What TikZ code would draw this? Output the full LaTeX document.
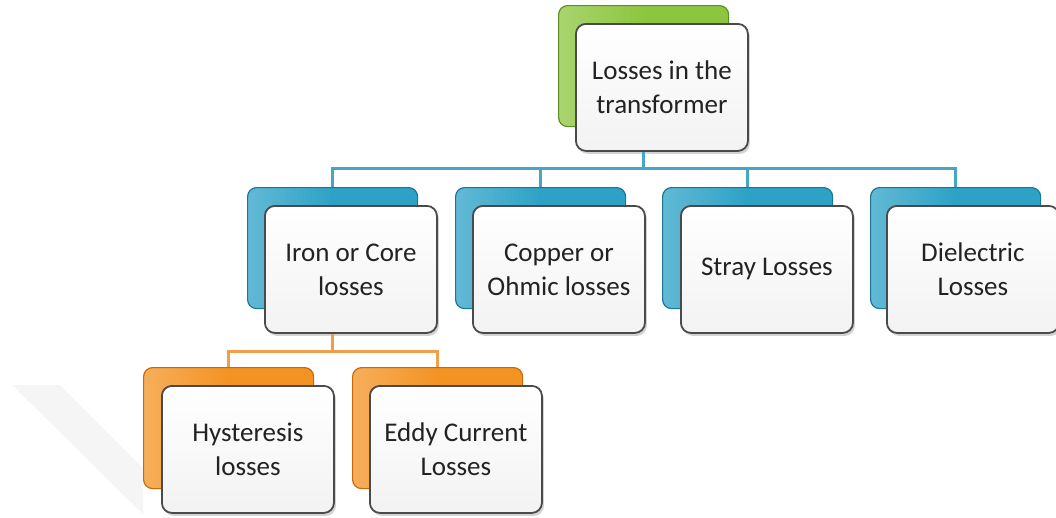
\documentclass[tikz,border=0pt]{standalone}
\usepackage{fontspec}
\setmainfont{Carlito}
\usetikzlibrary{shadows}
\definecolor{gA}{HTML}{8CC63F}
\definecolor{gB}{HTML}{5E8F22}
\definecolor{bA}{HTML}{2DA2C6}
\definecolor{bB}{HTML}{1A7696}
\definecolor{oA}{HTML}{F39324}
\definecolor{oB}{HTML}{C86A0A}
\definecolor{bline}{HTML}{45A6C6}
\definecolor{oline}{HTML}{EF9E4A}
\definecolor{frame}{HTML}{4A4A4A}
\definecolor{txt}{HTML}{222222}
\tikzset{
  backbox/.style 2 args={draw=#2, line width=1.2pt, rounded corners=9pt,
    minimum width=170pt, minimum height=121pt, anchor=north west, inner sep=0pt,
    left color=#1!75!white, right color=#1, middle color=#1},
  frontbox/.style={draw=frame, line width=1.8pt, rounded corners=10pt,
    minimum width=172pt, minimum height=127pt, anchor=north west, inner sep=0pt,
    top color=white, bottom color=gray!10, text=txt, align=center,
    font=\fontsize{27}{34}\selectfont,
    drop shadow={opacity=0.35, shadow xshift=2pt, shadow yshift=-3pt}},
  bluelink/.style={draw=bline, line width=3pt},
  orangelink/.style={draw=oline, line width=3pt}
}
\begin{document}
\begin{tikzpicture}[x=1pt,y=-1pt]
\useasboundingbox (0,0) rectangle (1056,517);
% faint watermark band
\fill[gray!8] (12,385) -- (60,385) -- (143,468) -- (143,514) -- cycle;

% back boxes
\node[backbox={gA}{gB}] (topb) at (558,5) {};
\node[backbox={bA}{bB}] (ironb) at (247,187) {};
\node[backbox={bA}{bB}] (copb) at (455,187) {};
\node[backbox={bA}{bB}] (strb) at (662,187) {};
\node[backbox={bA}{bB}] (dieb) at (870,187) {};
\node[backbox={oA}{oB}] (hysb) at (143,367) {};
\node[backbox={oA}{oB}] (eddb) at (352,367) {};

% front boxes
\node[frontbox] (topf) at (575,23) {Losses in the\\transformer};
\node[frontbox] (ironf) at (264,205) {Iron or Core\\losses};
\node[frontbox] (copf) at (472,205) {Copper or\\Ohmic losses};
\node[frontbox] (strf) at (680,205) {Stray Losses};
\node[frontbox] (dief) at (886,205) {Dielectric\\Losses};
\node[frontbox] (hysf) at (161,385) {Hysteresis\\losses};
\node[frontbox] (eddf) at (369,385) {Eddy Current\\Losses};

% connectors
\coordinate (bus) at ([yshift=-17pt]topb.center |- topf.south);
\draw[bluelink] (topb.center |- topf.south) -- (bus);
\draw[bluelink] (ironb.north) |- (bus);
\draw[bluelink] (copb.north) |- (bus);
\draw[bluelink] (strb.north) |- (bus);
\draw[bluelink] (dieb.north) |- (bus);

\coordinate (bus2) at ([yshift=-18pt]ironb.center |- ironf.south);
\draw[orangelink] (ironb.center |- ironf.south) -- (bus2);
\draw[orangelink] (hysb.north) |- (bus2);
\draw[orangelink] (eddb.north) |- (bus2);
\end{tikzpicture}
\end{document}
